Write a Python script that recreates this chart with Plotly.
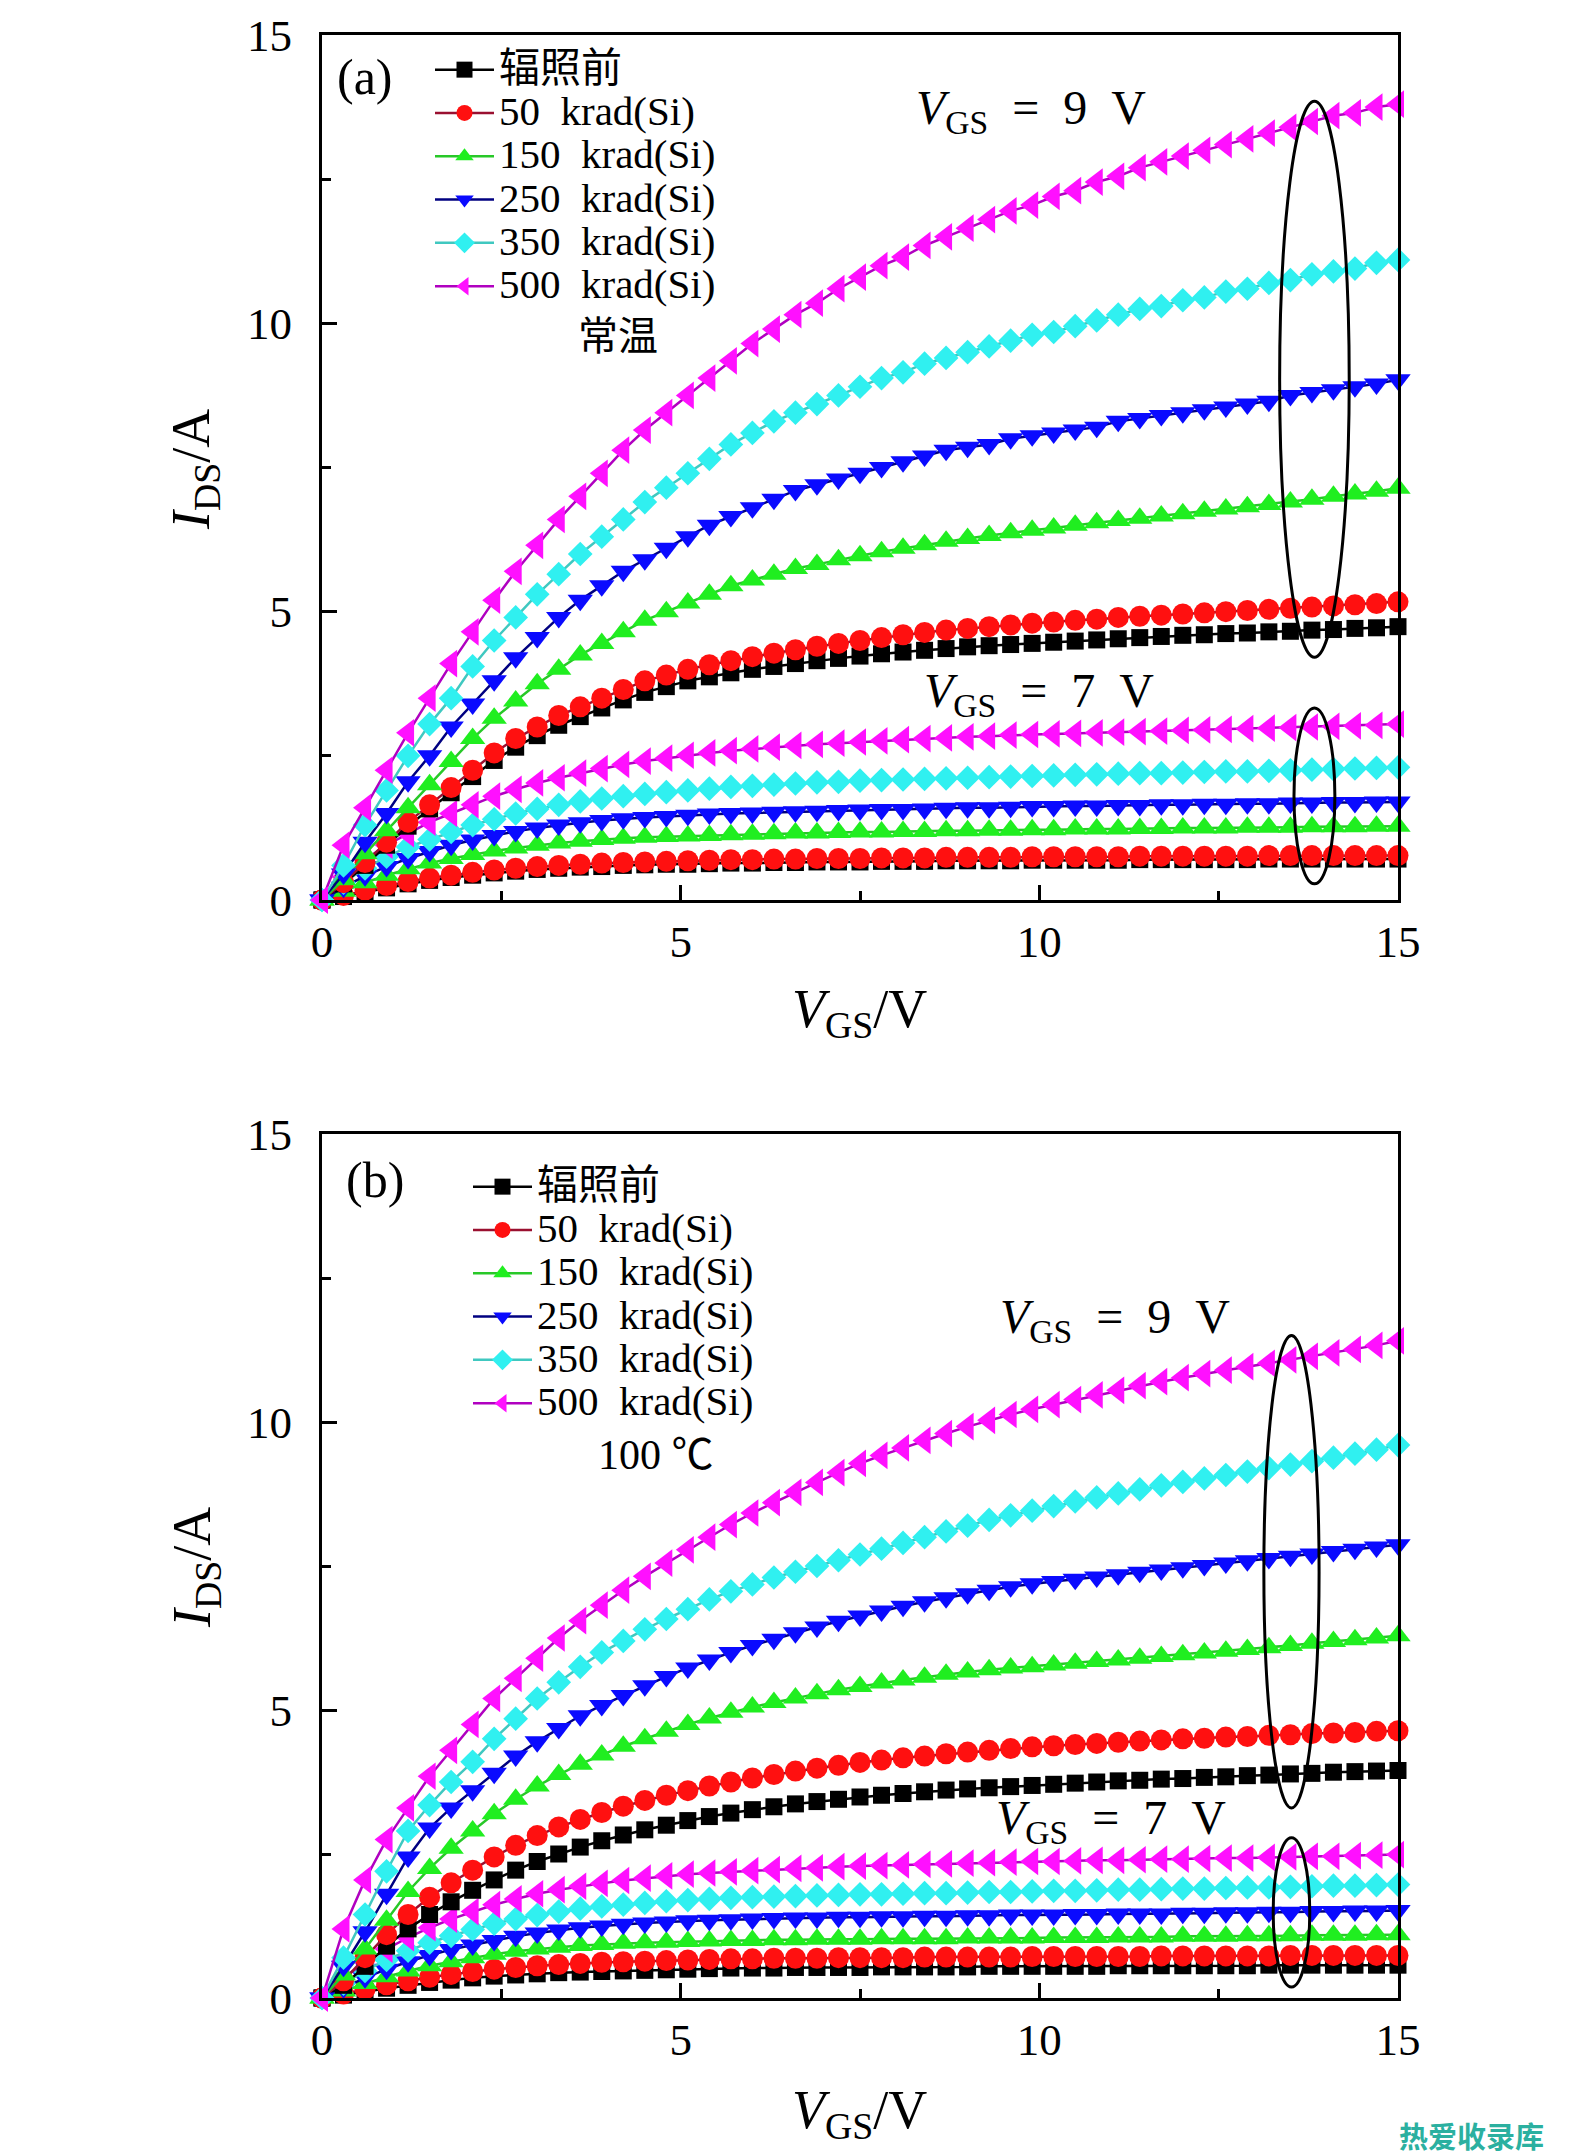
import plotly.graph_objects as go

# ---------------- data ----------------
V_GS = [0.0, 0.3, 0.6, 0.9, 1.2, 1.5, 1.8, 2.1, 2.4, 2.7, 3.0, 3.3, 3.6, 3.9, 4.2, 4.5, 4.8,
        5.1, 5.4, 5.7, 6.0, 6.3, 6.6, 6.9, 7.2, 7.5, 7.8, 8.1, 8.4, 8.7, 9.0, 9.3, 9.6, 9.9,
        10.2, 10.5, 10.8, 11.1, 11.4, 11.7, 12.0, 12.3, 12.6, 12.9, 13.2, 13.5, 13.8, 14.1,
        14.4, 14.7, 15.0]

SERIES = ["辐照前", "50 krad(Si)", "150 krad(Si)", "250 krad(Si)", "350 krad(Si)", "500 krad(Si)"]

# panel (a), room temperature, V_GS = 9 V
a9_pre = [0, 0.28, 0.6, 0.95, 1.28, 1.58, 1.86, 2.14, 2.42, 2.65, 2.85, 3.03, 3.18, 3.33, 3.47, 3.6, 3.7, 3.8, 3.87, 3.94, 4.0, 4.05, 4.1, 4.15, 4.19, 4.23, 4.27, 4.3, 4.33, 4.36, 4.39, 4.41, 4.43, 4.45, 4.47, 4.49, 4.51, 4.53, 4.55, 4.57, 4.59, 4.6, 4.62, 4.63, 4.65, 4.66, 4.68, 4.69, 4.71, 4.72, 4.74]
a9_50 = [0, 0.3, 0.65, 1.0, 1.35, 1.65, 1.95, 2.25, 2.55, 2.8, 3.0, 3.2, 3.35, 3.5, 3.65, 3.8, 3.9, 4.0, 4.08, 4.15, 4.22, 4.28, 4.34, 4.4, 4.45, 4.5, 4.55, 4.6, 4.64, 4.68, 4.71, 4.74, 4.77, 4.8, 4.82, 4.85, 4.87, 4.9, 4.92, 4.94, 4.96, 4.98, 5.0, 5.02, 5.04, 5.06, 5.08, 5.1, 5.12, 5.14, 5.17]
a9_150 = [0, 0.35, 0.8, 1.2, 1.6, 2.0, 2.4, 2.8, 3.15, 3.45, 3.75, 4.0, 4.25, 4.45, 4.65, 4.85, 5.0, 5.15, 5.3, 5.45, 5.55, 5.65, 5.75, 5.82, 5.9, 5.97, 6.04, 6.1, 6.16, 6.22, 6.27, 6.32, 6.37, 6.41, 6.45, 6.5, 6.54, 6.58, 6.62, 6.66, 6.7, 6.74, 6.78, 6.82, 6.86, 6.9, 6.95, 7.0, 7.04, 7.09, 7.14]
a9_250 = [0, 0.45, 1.0, 1.5, 2.05, 2.5, 3.0, 3.4, 3.8, 4.2, 4.55, 4.9, 5.2, 5.45, 5.7, 5.9, 6.1, 6.3, 6.5, 6.65, 6.8, 6.95, 7.1, 7.2, 7.3, 7.4, 7.5, 7.6, 7.7, 7.8, 7.85, 7.9, 8.0, 8.05, 8.1, 8.15, 8.2, 8.3, 8.35, 8.4, 8.45, 8.5, 8.55, 8.6, 8.65, 8.75, 8.8, 8.85, 8.9, 8.95, 9.02]
a9_350 = [0, 0.6, 1.3, 1.9, 2.5, 3.05, 3.5, 4.05, 4.5, 4.9, 5.3, 5.65, 6.0, 6.3, 6.6, 6.9, 7.15, 7.4, 7.65, 7.9, 8.1, 8.3, 8.45, 8.6, 8.75, 8.9, 9.05, 9.15, 9.3, 9.4, 9.5, 9.6, 9.7, 9.8, 9.85, 9.95, 10.05, 10.15, 10.25, 10.3, 10.4, 10.45, 10.55, 10.6, 10.7, 10.75, 10.85, 10.9, 10.95, 11.05, 11.1]
a9_500 = [0, 0.95, 1.6, 2.25, 2.9, 3.5, 4.1, 4.65, 5.2, 5.7, 6.15, 6.6, 7.0, 7.4, 7.8, 8.15, 8.45, 8.75, 9.05, 9.35, 9.65, 9.9, 10.15, 10.35, 10.6, 10.8, 11.0, 11.15, 11.35, 11.5, 11.65, 11.8, 11.95, 12.05, 12.2, 12.3, 12.45, 12.55, 12.7, 12.8, 12.9, 13.0, 13.1, 13.2, 13.3, 13.4, 13.5, 13.6, 13.65, 13.75, 13.8]

# panel (a), room temperature, V_GS = 7 V
a7_pre = [0, 0.06, 0.14, 0.21, 0.28, 0.34, 0.39, 0.43, 0.47, 0.5, 0.53, 0.55, 0.57, 0.58, 0.6, 0.61, 0.62, 0.62, 0.63, 0.64, 0.64, 0.65, 0.65, 0.66, 0.66, 0.66, 0.67, 0.67, 0.67, 0.68, 0.68, 0.68, 0.68, 0.69, 0.69, 0.69, 0.69, 0.69, 0.7, 0.7, 0.7, 0.7, 0.7, 0.7, 0.71, 0.71, 0.71, 0.71, 0.71, 0.71, 0.71]
a7_50 = [0, 0.08, 0.17, 0.25, 0.32, 0.38, 0.43, 0.48, 0.52, 0.55, 0.58, 0.6, 0.62, 0.64, 0.65, 0.66, 0.67, 0.68, 0.69, 0.7, 0.7, 0.71, 0.71, 0.72, 0.72, 0.72, 0.73, 0.73, 0.73, 0.74, 0.74, 0.74, 0.74, 0.75, 0.75, 0.75, 0.75, 0.75, 0.76, 0.76, 0.76, 0.76, 0.76, 0.76, 0.77, 0.77, 0.77, 0.77, 0.77, 0.77, 0.77]
a7_150 = [0, 0.15, 0.3, 0.43, 0.54, 0.64, 0.72, 0.79, 0.85, 0.9, 0.95, 0.99, 1.02, 1.05, 1.07, 1.09, 1.1, 1.11, 1.12, 1.13, 1.14, 1.15, 1.16, 1.16, 1.17, 1.18, 1.18, 1.19, 1.19, 1.2, 1.2, 1.21, 1.21, 1.22, 1.22, 1.23, 1.23, 1.23, 1.24, 1.24, 1.25, 1.25, 1.25, 1.26, 1.26, 1.26, 1.27, 1.27, 1.27, 1.28, 1.28]
a7_250 = [0, 0.22, 0.42, 0.58, 0.72, 0.84, 0.95, 1.04, 1.12, 1.19, 1.25, 1.3, 1.34, 1.38, 1.41, 1.43, 1.45, 1.47, 1.49, 1.5, 1.51, 1.52, 1.53, 1.54, 1.55, 1.56, 1.57, 1.57, 1.58, 1.59, 1.6, 1.6, 1.61, 1.62, 1.62, 1.63, 1.63, 1.64, 1.64, 1.65, 1.65, 1.66, 1.66, 1.67, 1.67, 1.68, 1.68, 1.69, 1.69, 1.7, 1.7]
a7_350 = [0, 0.3, 0.55, 0.75, 0.92, 1.05, 1.18, 1.3, 1.4, 1.5, 1.58, 1.65, 1.71, 1.76, 1.8, 1.84, 1.87, 1.9, 1.93, 1.96, 1.98, 2.0, 2.02, 2.04, 2.05, 2.07, 2.08, 2.09, 2.1, 2.11, 2.12, 2.13, 2.14, 2.15, 2.16, 2.17, 2.18, 2.19, 2.2, 2.2, 2.21, 2.22, 2.23, 2.23, 2.24, 2.25, 2.26, 2.27, 2.28, 2.29, 2.3]
a7_500 = [0, 0.4, 0.7, 0.95, 1.15, 1.35, 1.5, 1.65, 1.8, 1.92, 2.03, 2.12, 2.2, 2.28, 2.35, 2.41, 2.46, 2.51, 2.55, 2.59, 2.62, 2.65, 2.68, 2.7, 2.72, 2.74, 2.76, 2.78, 2.8, 2.81, 2.83, 2.84, 2.86, 2.87, 2.88, 2.89, 2.9, 2.91, 2.92, 2.93, 2.94, 2.95, 2.96, 2.97, 2.98, 2.99, 3.0, 3.01, 3.02, 3.03, 3.05]

# panel (b), 100 C, V_GS = 9 V
b9_pre = [0, 0.22, 0.55, 0.9, 1.2, 1.45, 1.67, 1.87, 2.05, 2.22, 2.37, 2.5, 2.62, 2.73, 2.83, 2.92, 3.0, 3.08, 3.15, 3.21, 3.27, 3.32, 3.37, 3.41, 3.45, 3.49, 3.52, 3.55, 3.58, 3.61, 3.63, 3.65, 3.67, 3.69, 3.71, 3.73, 3.75, 3.77, 3.78, 3.8, 3.81, 3.83, 3.84, 3.86, 3.87, 3.89, 3.9, 3.92, 3.93, 3.94, 3.95]
b9_50 = [0, 0.3, 0.7, 1.1, 1.45, 1.75, 2.0, 2.22, 2.45, 2.65, 2.82, 2.97, 3.1, 3.22, 3.33, 3.43, 3.52, 3.6, 3.68, 3.75, 3.82, 3.88, 3.94, 3.99, 4.04, 4.09, 4.13, 4.17, 4.2, 4.24, 4.27, 4.3, 4.33, 4.36, 4.38, 4.4, 4.42, 4.44, 4.46, 4.48, 4.5, 4.51, 4.53, 4.54, 4.56, 4.57, 4.59, 4.6, 4.61, 4.63, 4.64]
b9_150 = [0, 0.4, 0.85, 1.35, 1.85, 2.25, 2.6, 2.9, 3.2, 3.45, 3.68, 3.88, 4.06, 4.22, 4.37, 4.5, 4.63, 4.75, 4.86, 4.96, 5.05, 5.13, 5.21, 5.28, 5.35, 5.41, 5.47, 5.52, 5.57, 5.62, 5.66, 5.7, 5.73, 5.75, 5.78, 5.81, 5.84, 5.87, 5.9, 5.93, 5.96, 5.99, 6.02, 6.05, 6.08, 6.12, 6.16, 6.19, 6.22, 6.25, 6.29]
b9_250 = [0, 0.55, 1.15, 1.8, 2.45, 2.95, 3.3, 3.6, 3.9, 4.2, 4.45, 4.68, 4.9, 5.08, 5.25, 5.42, 5.58, 5.73, 5.87, 6.0, 6.12, 6.23, 6.34, 6.44, 6.54, 6.63, 6.72, 6.8, 6.88, 6.95, 7.02, 7.08, 7.14, 7.19, 7.23, 7.27, 7.31, 7.35, 7.39, 7.43, 7.47, 7.51, 7.55, 7.59, 7.63, 7.67, 7.71, 7.75, 7.79, 7.83, 7.87]
b9_350 = [0, 0.7, 1.45, 2.2, 2.9, 3.35, 3.75, 4.1, 4.5, 4.85, 5.2, 5.48, 5.75, 6.0, 6.2, 6.4, 6.58, 6.75, 6.92, 7.06, 7.18, 7.3, 7.4, 7.5, 7.6, 7.7, 7.8, 7.9, 8.0, 8.1, 8.2, 8.3, 8.38, 8.46, 8.54, 8.62, 8.69, 8.76, 8.83, 8.9, 8.96, 9.02, 9.08, 9.14, 9.2, 9.26, 9.32, 9.38, 9.45, 9.52, 9.6]
b9_500 = [0, 1.2, 2.05, 2.75, 3.3, 3.85, 4.3, 4.75, 5.2, 5.55, 5.9, 6.25, 6.55, 6.82, 7.08, 7.32, 7.55, 7.78, 8.0, 8.22, 8.42, 8.6, 8.78, 8.95, 9.12, 9.28, 9.42, 9.55, 9.68, 9.8, 9.92, 10.03, 10.13, 10.22, 10.3, 10.39, 10.47, 10.55, 10.63, 10.7, 10.77, 10.84, 10.9, 10.96, 11.02, 11.08, 11.14, 11.2, 11.26, 11.33, 11.41]

# panel (b), 100 C, V_GS = 7 V
b7_pre = [0, 0.05, 0.11, 0.17, 0.22, 0.27, 0.31, 0.35, 0.38, 0.4, 0.42, 0.44, 0.45, 0.46, 0.47, 0.48, 0.49, 0.5, 0.51, 0.52, 0.52, 0.52, 0.53, 0.53, 0.53, 0.53, 0.54, 0.54, 0.54, 0.54, 0.54, 0.55, 0.55, 0.55, 0.55, 0.55, 0.55, 0.56, 0.56, 0.56, 0.56, 0.56, 0.56, 0.56, 0.57, 0.57, 0.57, 0.57, 0.57, 0.57, 0.57]
b7_50 = [0, 0.07, 0.15, 0.23, 0.3, 0.36, 0.41, 0.46, 0.5, 0.53, 0.56, 0.58, 0.6, 0.62, 0.63, 0.64, 0.65, 0.66, 0.67, 0.68, 0.68, 0.69, 0.69, 0.69, 0.7, 0.7, 0.7, 0.7, 0.71, 0.71, 0.71, 0.71, 0.71, 0.72, 0.72, 0.72, 0.72, 0.72, 0.72, 0.73, 0.73, 0.73, 0.73, 0.73, 0.73, 0.74, 0.74, 0.74, 0.74, 0.74, 0.74]
b7_150 = [0, 0.12, 0.25, 0.37, 0.47, 0.56, 0.63, 0.7, 0.76, 0.81, 0.85, 0.88, 0.91, 0.93, 0.95, 0.96, 0.97, 0.98, 0.99, 1.0, 1.0, 1.01, 1.01, 1.02, 1.02, 1.02, 1.03, 1.03, 1.03, 1.03, 1.04, 1.04, 1.04, 1.04, 1.05, 1.05, 1.05, 1.06, 1.06, 1.06, 1.07, 1.07, 1.07, 1.08, 1.08, 1.08, 1.09, 1.09, 1.09, 1.1, 1.1]
b7_250 = [0, 0.18, 0.35, 0.5, 0.63, 0.74, 0.84, 0.92, 1.0, 1.07, 1.13, 1.18, 1.22, 1.25, 1.28, 1.3, 1.32, 1.34, 1.35, 1.36, 1.37, 1.38, 1.39, 1.39, 1.4, 1.4, 1.41, 1.41, 1.42, 1.42, 1.43, 1.43, 1.44, 1.44, 1.44, 1.45, 1.45, 1.46, 1.46, 1.46, 1.47, 1.47, 1.48, 1.48, 1.49, 1.49, 1.5, 1.5, 1.51, 1.51, 1.52]
b7_350 = [0, 0.25, 0.47, 0.66, 0.82, 0.96, 1.08, 1.19, 1.29, 1.37, 1.44, 1.5, 1.55, 1.59, 1.62, 1.65, 1.68, 1.7, 1.72, 1.74, 1.75, 1.76, 1.77, 1.78, 1.79, 1.8, 1.8, 1.81, 1.82, 1.82, 1.83, 1.84, 1.84, 1.85, 1.86, 1.86, 1.87, 1.88, 1.88, 1.89, 1.9, 1.9, 1.91, 1.92, 1.92, 1.93, 1.94, 1.95, 1.95, 1.96, 1.97]
b7_500 = [0, 0.35, 0.62, 0.85, 1.05, 1.22, 1.37, 1.5, 1.62, 1.72, 1.81, 1.88, 1.94, 1.99, 2.04, 2.08, 2.12, 2.15, 2.17, 2.19, 2.21, 2.23, 2.25, 2.26, 2.28, 2.29, 2.3, 2.31, 2.32, 2.33, 2.34, 2.35, 2.36, 2.37, 2.37, 2.38, 2.39, 2.39, 2.4, 2.41, 2.41, 2.42, 2.43, 2.43, 2.44, 2.45, 2.46, 2.46, 2.47, 2.48, 2.49]

MAJOR_TICKS = [0, 5, 10, 15]
MINOR_TICKS = [2.5, 7.5, 12.5]

# ---------------- styling ----------------
W, H = 1575, 2156
FONT = "Liberation Serif, Noto Sans CJK SC, serif"

STYLES = [
    dict(symbol="square", size=17, color="#000000", line="#000000"),
    dict(symbol="circle", size=21, color="#ff1010", line="#9a1030"),
    dict(symbol="triangle-up", size=22, color="#20ee20", line="#28c828"),
    dict(symbol="triangle-down", size=22, color="#0a0aff", line="#000080"),
    dict(symbol="diamond", size=19, color="#30f0f0", line="#40c8c0"),
    dict(symbol="triangle-left", size=24, color="#ff10ff", line="#b000c0"),
]

XDOM = [322 / W, 1398 / W]
YDOM_A = [1 - 900 / H, 1 - 35 / H]
YDOM_B = [1 - 1998 / H, 1 - 1134 / H]

fig = go.Figure()

panels = [
    dict(sets=[[a7_pre, a7_50, a7_150, a7_250, a7_350, a7_500],
               [a9_pre, a9_50, a9_150, a9_250, a9_350, a9_500]],
         xa="x", ya="y", leg="legend"),
    dict(sets=[[b7_pre, b7_50, b7_150, b7_250, b7_350, b7_500],
               [b9_pre, b9_50, b9_150, b9_250, b9_350, b9_500]],
         xa="x2", ya="y2", leg="legend2"),
]

for p in panels:
    for si, series_set in enumerate(p["sets"]):
        for name, vals, st in zip(SERIES, series_set, STYLES):
            fig.add_trace(go.Scatter(
                x=V_GS, y=vals, mode="lines+markers",
                name='<span style="font-size:41px">' + name.replace(" ", "\u00a0\u00a0") + "</span>",
                xaxis=p["xa"], yaxis=p["ya"], legend=p["leg"],
                showlegend=(si == 1), cliponaxis=False,
                line=dict(color=st["line"], width=2.5),
                marker=dict(symbol=st["symbol"], size=st["size"], color=st["color"],
                            line=dict(width=0)),
            ))


def axis(domain, anchor, standoff):
    return dict(domain=domain, anchor=anchor, range=[0, 15], showline=True, linewidth=3,
                linecolor="black", mirror=True, ticks="inside", ticklen=15, tickwidth=2.5,
                tickcolor="black", tickvals=MAJOR_TICKS,
                ticktext=[str(v) for v in MAJOR_TICKS],
                minor=dict(ticks="inside", ticklen=9, tickwidth=2.5, tickcolor="black",
                           tickvals=MINOR_TICKS),
                showgrid=False, zeroline=False, automargin=False, fixedrange=True,
                ticklabelstandoff=standoff,
                tickfont=dict(family=FONT, size=45, color="black"))


legend_common = dict(bgcolor="rgba(0,0,0,0)", borderwidth=0, itemwidth=59,
                     font=dict(family=FONT, size=31, color="black"),
                     xanchor="left", yanchor="top", tracegroupgap=0)

fig.update_layout(
    width=W, height=H, margin=dict(l=0, r=0, t=0, b=0),
    paper_bgcolor="white", plot_bgcolor="white",
    xaxis=axis(XDOM, "y", 0), yaxis=axis(YDOM_A, "x", 18),
    xaxis2=axis(XDOM, "y2", 0), yaxis2=axis(YDOM_B, "x2", 18),
    legend=dict(x=430 / W, y=1 - 43 / H, **legend_common),
    legend2=dict(x=468 / W, y=1 - 1160 / H, **legend_common),
    showlegend=True,
)

ann = []


def txt(text, x, y, xref, yref, size, **kw):
    d = dict(text=text, x=x, y=y, xref=xref, yref=yref, showarrow=False,
             font=dict(family=FONT, size=size, color=kw.pop("color", "black")),
             xanchor="center", yanchor="middle")
    d.update(kw)
    ann.append(d)


VGS9 = "<i>V</i><sub>GS</sub>\u00a0\u00a0=\u00a0\u00a09\u00a0\u00a0V"
VGS7 = "<i>V</i><sub>GS</sub>\u00a0\u00a0=\u00a0\u00a07\u00a0\u00a0V"

# panel (a)
txt("(a)", 0.6, 14.27, "x", "y", 50)
txt("常温", 4.12, 9.78, "x", "y", 40)
txt(VGS9, 9.88, 13.68, "x", "y", 48)
txt(VGS7, 9.99, 3.58, "x", "y", 48)
# panel (b)
txt("(b)", 0.74, 14.2, "x2", "y2", 50)
txt("100\u00a0℃", 4.66, 9.43, "x2", "y2", 42)
txt(VGS9, 11.05, 11.77, "x2", "y2", 48)
txt(VGS7, 11.0, 3.08, "x2", "y2", 48)

# axis titles
XT = "<i>V</i><sub>GS</sub>/V"
YT = "<i>I</i><sub>DS</sub>/A"
txt(XT, 860 / W, 1 - 1012 / H, "paper", "paper", 54)
txt(XT, 860 / W, 1 - 2113 / H, "paper", "paper", 54)
txt(YT, 195 / W, 1 - 470 / H, "paper", "paper", 54, textangle=-90)
txt(YT, 195 / W, 1 - 1568 / H, "paper", "paper", 54, textangle=-90)

# watermark
ann.append(dict(text="<b>热爱收录库</b>", x=1471 / W, y=1 - 2135 / H, xref="paper", yref="paper",
                showarrow=False, font=dict(family="Noto Sans CJK SC", size=29, color="#2bb0a0"),
                xanchor="center", yanchor="middle"))

fig.update_layout(annotations=ann)

# ellipses marking the curves at the right side
ell = dict(type="circle", line=dict(color="black", width=3), fillcolor="rgba(0,0,0,0)", layer="above")
fig.update_layout(shapes=[
    dict(xref="x", yref="y", x0=13.35, x1=14.32, y0=4.21, y1=13.85, **ell),
    dict(xref="x", yref="y", x0=13.55, x1=14.12, y0=0.28, y1=3.33, **ell),
    dict(xref="x2", yref="y2", x0=13.13, x1=13.9, y0=3.3, y1=11.5, **ell),
    dict(xref="x2", yref="y2", x0=13.26, x1=13.77, y0=0.19, y1=2.78, **ell),
])

fig.write_html("out.html", config={"displayModeBar": False},
               post_script="document.body.style.margin='0';document.body.style.overflow='hidden';")
